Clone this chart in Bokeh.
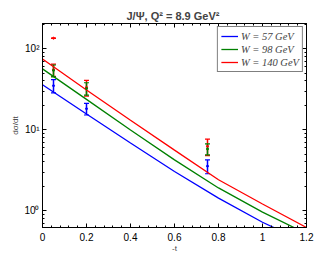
from bokeh.plotting import figure
from bokeh.models import (Range1d, LinearAxis, LogAxis, FixedTicker, ColumnDataSource,
                          Whisker, TeeHead, Legend, LegendItem, LogTicker)
from bokeh.embed import file_html
from bokeh.resources import INLINE

# ---- data ----
t_curve = [0.0, 0.2, 0.4, 0.6, 0.8, 1.0, 1.2]
w57 = [35.9, 15.6, 6.84, 3.05, 1.43, 0.72, 0.40]
w98 = [56.4, 23.7, 9.9, 4.24, 1.91, 0.96, 0.52]
w140 = [74.8, 31.0, 13.1, 5.6, 2.41, 1.21, 0.62]

t_data = [0.05, 0.2, 0.75]
d57 = [35.0, 18.2, 3.55]
e57 = [6.5, 3.0, 0.69]
d98 = [54.0, 32.4, 5.78]
e98 = [9.0, 5.6, 0.89]
d140 = [55.0, 33.3, 6.23]
e140 = [9.5, 7.3, 1.44]
t_extra = [0.05]
d140_extra = [135.0]
e140_extra = [0.5]

labels = ["W = 57 GeV", "W = 98 GeV", "W = 140 GeV"]
colors = ["#0000ff", "#008000", "#ff0000"]
title_text = "J/\u03a8,  Q\u00b2 = 8.9 GeV\u00b2"
x_ticks = [0, 0.2, 0.4, 0.6, 0.8, 1.0, 1.2]
x_tick_labels = ["0", "0.2", "0.4", "0.6", "0.8", "1", "1.2"]
y_ticks = [1, 10, 100]
y_tick_labels = ["10\u2070", "10\u00b9", "10\u00b2"]

FONT = "Liberation Sans"

p = figure(width=317, height=255, output_backend="svg", toolbar_location=None,
           y_axis_type="log", x_range=Range1d(0, 1.2), y_range=Range1d(0.62, 205),
           min_border_left=42, min_border_right=11, min_border_top=23, min_border_bottom=26)
p.background_fill_color = "white"
p.border_fill_color = "white"
p.outline_line_color = "black"
p.outline_line_width = 1
p.xgrid.visible = False
p.ygrid.visible = False

p.title.text = title_text
p.title.align = "center"
p.title.text_font = FONT
p.title.text_font_size = "11px"
p.title.text_font_style = "bold"
p.title.standoff = 4
p.title.offset = 0

renderers = []
for ys, c in zip([w57, w98, w140], colors):
    r = p.line(t_curve, ys, line_color=c, line_width=1.3)
    renderers.append(r)

for ds, es, c, tt in [(d57, e57, colors[0], t_data), (d140, e140, colors[2], t_data),
                      (d98, e98, colors[1], t_data), (d140_extra, e140_extra, colors[2], t_extra)]:
    src = ColumnDataSource(dict(x=tt, y=ds,
                                lo=[v - e for v, e in zip(ds, es)],
                                hi=[v + e for v, e in zip(ds, es)]))
    w = Whisker(source=src, base="x", lower="lo", upper="hi", dimension="height",
                line_color=c, line_width=1.5,
                lower_head=TeeHead(size=5, line_color=c, line_width=1.2),
                upper_head=TeeHead(size=5, line_color=c, line_width=1.2))
    p.add_layout(w)
    p.scatter("x", "y", source=src, size=2, color=c)

minor_x = [round(i * 0.04, 2) for i in range(31)]
xa = p.xaxis[0]
xa.ticker = FixedTicker(ticks=x_ticks, minor_ticks=minor_x)
xa.major_label_overrides = {v: s for v, s in zip(x_ticks, x_tick_labels)}
ya = p.yaxis[0]
ya.ticker = LogTicker(num_minor_ticks=10)
ya.major_label_overrides = {v: s for v, s in zip(y_ticks, y_tick_labels)}

for ax in [xa, ya]:
    ax.major_tick_in = 4
    ax.major_tick_out = 0
    ax.minor_tick_in = 2
    ax.minor_tick_out = 0
    ax.axis_line_color = "black"
    ax.major_tick_line_color = "black"
    ax.minor_tick_line_color = "black"
    ax.major_label_text_font = FONT
    ax.major_label_text_font_size = "10px"
    ax.major_label_text_color = "black"
    ax.major_label_standoff = 3
    ax.axis_label_text_font = FONT
    ax.axis_label_text_font_size = "8px"
    ax.axis_label_text_font_style = "normal"
    ax.axis_label_standoff = 1

xa.major_label_standoff = 5
xa.axis_label_standoff = 0

xa.axis_label = "-t"
ya.axis_label = "d\u03c3/dt"

top = LinearAxis(ticker=FixedTicker(ticks=x_ticks, minor_ticks=minor_x))
right = LogAxis(ticker=LogTicker(num_minor_ticks=10))
for ax in [top, right]:
    ax.major_tick_in = 4
    ax.major_tick_out = 0
    ax.minor_tick_in = 2
    ax.minor_tick_out = 0
    ax.major_label_text_font_size = "1px"
    ax.major_label_text_color = None
    ax.major_label_standoff = 0
    ax.axis_line_color = "black"
    ax.major_tick_line_color = "black"
    ax.minor_tick_line_color = "black"
p.add_layout(top, "above")
p.add_layout(right, "right")

legend = Legend(items=[LegendItem(label=l, renderers=[r]) for l, r in zip(labels, renderers)],
                location="top_right")
legend.label_text_font = "Liberation Serif"
legend.label_text_font_style = "italic"
legend.label_text_font_size = "10.5px"
legend.label_height = 12
legend.glyph_height = 12
legend.glyph_width = 17
legend.label_standoff = 3
legend.spacing = 1
legend.padding = 3
legend.margin = 3
legend.border_line_color = "black"
legend.border_line_width = 1.2
legend.background_fill_alpha = 1
p.add_layout(legend)

open("out.html", "w").write(file_html(p, INLINE))
